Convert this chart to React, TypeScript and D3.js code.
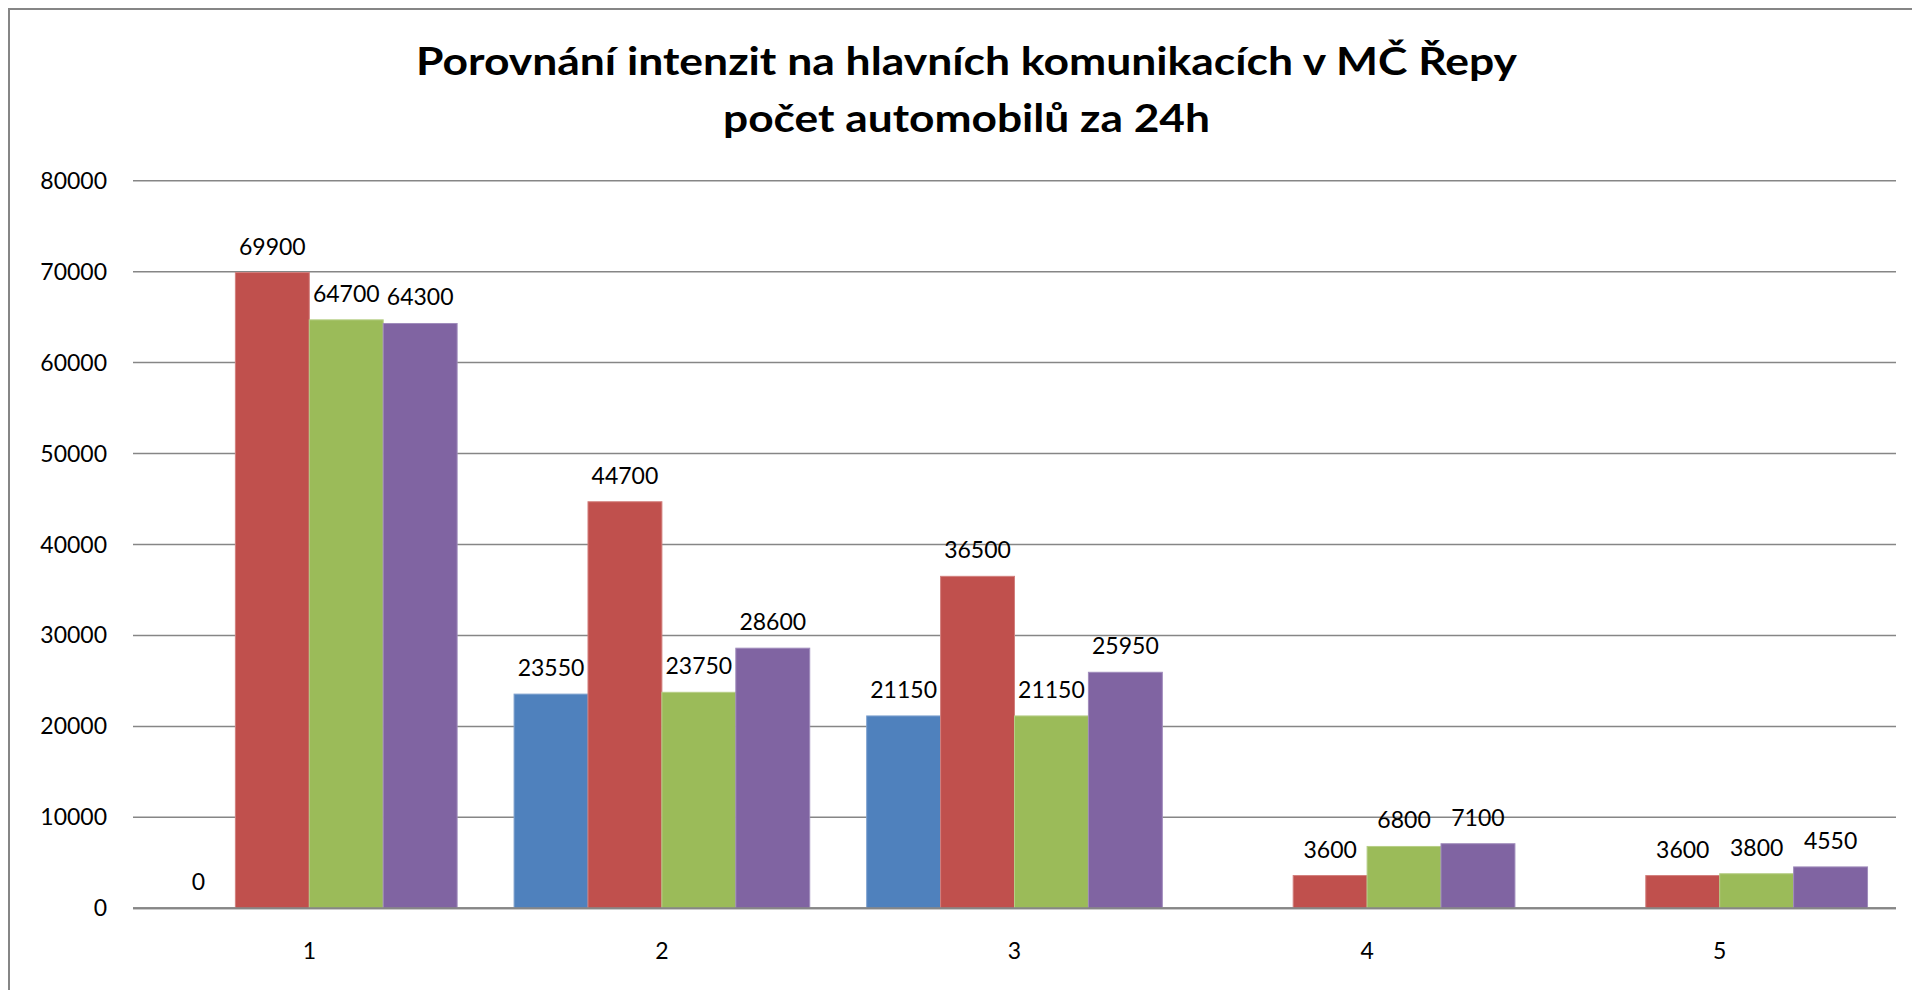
import React, { useRef, useEffect } from 'react';
import * as d3 from 'd3';

const categories = ['1', '2', '3', '4', '5'];
const seriesBlue = [0, 23550, 21150, null, null];
const seriesRed = [69900, 44700, 36500, 3600, 3600];
const seriesGreen = [64700, 23750, 21150, 6800, 3800];
const seriesPurple = [64300, 28600, 25950, 7100, 4550];
const yTicks = [0, 10000, 20000, 30000, 40000, 50000, 60000, 70000, 80000];
const titleLines = ['Porovnání intenzit na hlavních komunikacích v MČ Řepy', 'počet automobilů za 24h'];

const seriesList = [
    { key: 's1', values: seriesBlue, color: '#4F81BD', edge: '#7FA2CF' },
    { key: 's2', values: seriesRed, color: '#C0504D', edge: '#D27F7D' },
    { key: 's3', values: seriesGreen, color: '#9BBB59', edge: '#B6CE86' },
    { key: 's4', values: seriesPurple, color: '#8064A2', edge: '#A08CBC' },
];

const FONT = "Lato, 'Open Sans', sans-serif";

const App = () => {
    const svgRef = useRef<SVGSVGElement>(null);

    useEffect(() => {
        const svg = d3.select(svgRef.current);
        svg.selectAll('*').remove();

        const width = 1912;
        const height = 990;
        const left = 133;
        const right = 1896;
        const top = 180.7;
        const bottom = 908.3;

        // chart frame (runs past the window on right and bottom)
        svg.append('rect')
            .attr('x', 9).attr('y', 9)
            .attr('width', width + 20).attr('height', height + 20)
            .attr('fill', 'white')
            .attr('stroke', '#868686')
            .attr('stroke-width', 2);

        const x0 = d3.scaleBand()
            .domain(categories)
            .range([left, right])
            .paddingInner(0.1615)
            .paddingOuter(0.08075);

        const x1 = d3.scaleBand()
            .domain(seriesList.map(s => s.key))
            .range([0, x0.bandwidth()])
            .padding(0);

        const y = d3.scaleLinear().domain([0, 80000]).range([bottom, top]);

        // gridlines
        svg.append('g')
            .selectAll('line')
            .data(yTicks)
            .join('line')
            .attr('x1', left).attr('x2', right)
            .attr('y1', d => y(d)).attr('y2', d => y(d))
            .attr('stroke', '#868686')
            .attr('stroke-width', d => d === 0 ? 2 : 1.5);

        // y tick labels
        svg.append('g')
            .selectAll('text')
            .data(yTicks)
            .join('text')
            .attr('x', 107)
            .attr('y', d => y(d) + 8)
            .attr('text-anchor', 'end')
            .attr('font-family', FONT)
            .attr('font-size', '23px')
            .attr('fill', 'black')
            .text(d => d);

        // bars
        const rows = seriesList.flatMap(s =>
            s.values.map((v, i) => ({ key: s.key, cat: categories[i], value: v, color: s.color, edge: s.edge }))
        ).filter(d => d.value !== null);

        svg.append('g')
            .selectAll('rect')
            .data(rows.filter(d => (d.value as number) > 0))
            .join('rect')
            .attr('x', d => (x0(d.cat) as number) + (x1(d.key) as number))
            .attr('y', d => y(d.value as number))
            .attr('width', x1.bandwidth())
            .attr('height', d => bottom - y(d.value as number))
            .attr('fill', d => d.color)
            .attr('stroke', d => d.edge)
            .attr('stroke-width', 1);

        // baseline drawn over bars
        svg.append('line')
            .attr('x1', left).attr('x2', right)
            .attr('y1', y(0)).attr('y2', y(0))
            .attr('stroke', '#868686')
            .attr('stroke-width', 2);

        // data labels
        svg.append('g')
            .selectAll('text')
            .data(rows)
            .join('text')
            .attr('x', d => (x0(d.cat) as number) + (x1(d.key) as number) + x1.bandwidth() / 2)
            .attr('y', d => y(d.value as number) - 18)
            .attr('text-anchor', 'middle')
            .attr('font-family', FONT)
            .attr('font-size', '23px')
            .attr('fill', 'black')
            .text(d => d.value as number);

        // category labels
        svg.append('g')
            .selectAll('text')
            .data(categories)
            .join('text')
            .attr('x', d => (x0(d) as number) + x0.bandwidth() / 2)
            .attr('y', 959)
            .attr('text-anchor', 'middle')
            .attr('font-family', FONT)
            .attr('font-size', '23px')
            .attr('fill', 'black')
            .text(d => d);

        // title
        const titleWidths = [1101, 487];
        svg.append('g')
            .selectAll('text')
            .data(titleLines)
            .join('text')
            .attr('x', 966.5)
            .attr('y', (d, i) => i === 0 ? 75 : 132)
            .attr('text-anchor', 'middle')
            .attr('font-family', FONT)
            .attr('font-weight', 'bold')
            .attr('font-size', '39px')
            .attr('fill', 'black')
            .attr('textLength', (d, i) => titleWidths[i])
            .attr('lengthAdjust', 'spacingAndGlyphs')
            .text(d => d);
    }, []);

    return (
        <svg
            ref={svgRef}
            width={1912}
            height={990}
            style={{ position: 'absolute', left: 0, top: 0, display: 'block' }}
        ></svg>
    );
};

export default App;
